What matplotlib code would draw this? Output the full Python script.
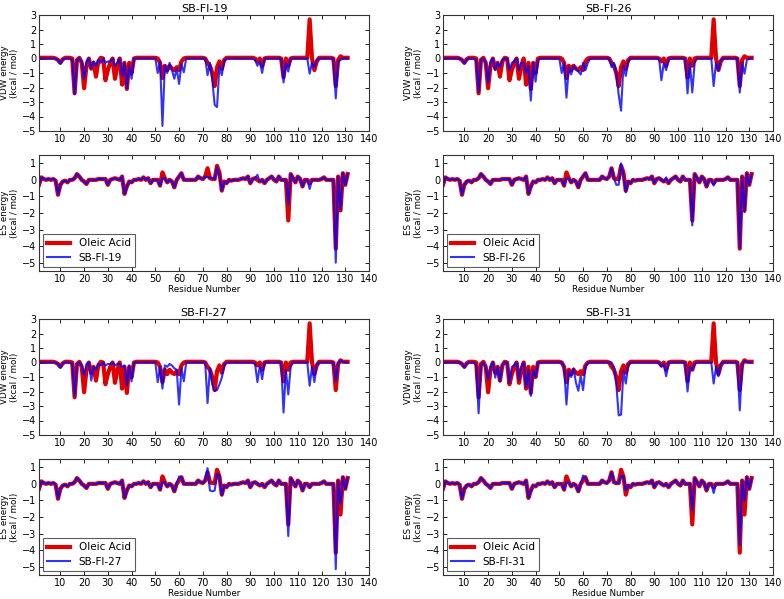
import numpy as np
import matplotlib
matplotlib.use('Agg')
import matplotlib.pyplot as plt

residues = np.arange(1, 132)
compounds = ['SB-FI-19', 'SB-FI-26', 'SB-FI-27', 'SB-FI-31']

# VDW energy per residue (kcal/mol), residues 1-131
vdw_oleic = [
    0.05, 0.05, 0.05, 0.05, 0.05, 0.05, 0.05, 0.0, -0.1, -0.3,
    -0.05, 0.05, 0.05, 0.05, 0.0, -2.4, -0.1, 0.05, -0.3, -2.05,
    -0.5, 0.0, -0.7, -0.3, -1.25, -0.2, 0.05, 0.0, -1.5, -0.8,
    -0.3, 0.0, -1.4, -0.5, 0.0, -1.8, -0.3, -2.1, -0.3, -1.0,
    0.0, 0.05, 0.05, 0.05, 0.05, 0.05, 0.05, 0.05, 0.05, 0.05,
    0.0, -0.3, -1.35, -0.5, -0.8, -0.5, -0.7, -0.8, -0.6, -0.8,
    -0.2, 0.0, 0.05, 0.05, 0.05, 0.05, 0.05, 0.05, 0.05, 0.05,
    0.0, -0.3, -0.5, -1.0, -1.9, -0.6, -0.2, -0.7, -0.1, 0.05,
    0.05, 0.05, 0.05, 0.05, 0.05, 0.05, 0.05, 0.05, 0.05, 0.05,
    0.05, 0.0, -0.2, 0.0, -0.5, 0.0, 0.05, 0.05, 0.05, 0.05,
    0.05, 0.05, 0.0, -1.3, 0.0, -0.5, 0.0, 0.05, 0.05, 0.05,
    0.05, 0.05, 0.05, 0.05, 2.7, 0.0, -0.8, -0.2, 0.05, 0.05,
    0.05, 0.05, 0.05, 0.05, 0.0, -1.9, -0.1, 0.15, 0.05, 0.05, 0.05]

vdw_sb19 = [
    0, 0, 0, 0, 0, 0, 0, 0, -0.1, -0.35,
    -0.05, 0, 0, 0, -0.1, -2.45, -0.1, 0, -0.2, -1.4,
    -0.2, 0, -0.7, -0.2, -0.5, -0.1, -0.3, 0, -0.3, -0.2,
    -0.2, 0, -0.5, -0.3, 0, -1.2, -0.3, -2.05, -0.5, -1.4,
    0, 0, 0, 0, 0, 0, 0, 0, 0, 0,
    -1.0, -0.2, -4.65, -0.5, -1.0, -0.3, -0.8, -1.4, -0.7, -1.75,
    -0.4, -0.95, 0, 0, 0, 0, 0, 0, 0, 0,
    0, -1.15, -0.3, -1.5, -3.2, -3.35, -0.5, -1.15, -0.2, 0,
    0, 0, 0, 0, 0, 0, 0, 0, 0, 0,
    0, -0.1, -0.5, -0.2, -1.0, 0, 0, 0, 0, 0,
    0, 0, 0, -1.65, -0.3, -0.9, 0, 0, 0, 0,
    0, 0, 0, 0, -1.05, -0.3, -0.6, -0.1, 0, 0,
    0, 0, 0, 0, 0, -2.75, -0.2, -0.1, 0, 0, 0]

vdw_sb26 = [
    0, 0, 0, 0, 0, 0, 0, 0, -0.1, -0.35,
    -0.05, 0, 0, 0, -0.1, -2.3, -0.1, 0, -0.3, -1.7,
    -0.2, 0, -0.8, -0.3, -0.6, -0.1, 0, 0, -0.8, -0.3,
    -0.2, 0, -0.8, -0.3, -0.3, -1.0, -0.5, -2.9, -0.3, -1.6,
    -0.1, 0, 0, 0, 0, 0, 0, 0, 0, 0,
    -1.0, -0.3, -2.7, -0.6, -1.1, -0.5, -0.7, -0.9, -1.1, -0.3,
    -0.8, -0.3, 0, 0, 0, 0, 0, 0, 0, 0,
    0, -0.6, -0.3, -1.0, -2.5, -3.6, -0.5, -1.2, -0.2, 0,
    0, 0, 0, 0, 0, 0, 0, 0, 0, 0,
    0, 0, -1.5, -0.3, -0.8, 0, 0, 0, 0, 0,
    0, 0, 0, -2.4, -0.3, -2.35, -0.3, 0, 0, 0,
    0, 0, 0, 0, -1.9, -0.3, -0.8, -0.1, 0, 0,
    0, 0, 0, 0, 0, -2.35, -0.3, -1.05, -0.1, 0, 0]

vdw_sb27 = [
    0, 0, 0, 0, 0, 0, 0, 0, -0.1, -0.35,
    -0.05, 0, 0, 0, -0.1, -2.3, -0.1, 0, -0.2, -0.9,
    -0.1, 0, -1.25, -0.3, -0.5, -0.1, -0.2, 0, -0.2, -0.1,
    -0.1, 0, -0.2, -0.1, -0.1, -0.3, -0.2, -1.6, -0.2, -1.3,
    0, 0, 0, 0, 0, 0, 0, 0, 0, 0,
    -1.35, -0.3, -1.8, -0.2, -0.3, -0.1, -0.2, -0.4, -0.5, -2.9,
    -0.4, -1.3, 0, 0, 0, 0, 0, 0, 0, 0,
    0, -2.8, -0.4, -1.5, -1.95, -1.9, -1.5, -1.05, -0.2, 0,
    0, 0, 0, 0, 0, 0, 0, 0, 0, 0,
    0, -0.1, -1.35, -0.2, -1.15, 0, 0, 0, 0, 0,
    0, 0, 0, -3.45, -0.5, -2.2, -0.3, 0, 0, 0,
    0, 0, 0, 0, -1.6, -0.3, -1.35, -0.1, 0, 0,
    0, 0, 0, 0, 0, -1.3, -0.1, 0.15, 0.05, 0, 0]

vdw_sb31 = [
    0, 0, 0, 0, 0, 0, 0, 0, -0.1, -0.35,
    -0.05, 0, 0, 0, -0.2, -3.5, -0.2, 0, -0.3, -1.2,
    -0.3, 0, -1.05, -0.3, -1.3, -0.2, 0, 0, -1.4, -0.3,
    -0.2, 0, -1.2, -0.3, 0, -1.7, -0.5, -2.3, -0.5, -1.0,
    0, 0, 0, 0, 0, 0, 0, 0, 0, 0,
    0, -0.3, -2.9, -0.6, -1.0, -0.4, -1.4, -1.95, -0.9, -1.9,
    -0.3, 0, 0, 0, 0, 0, 0, 0, 0, 0,
    0, 0, -0.3, -1.5, -3.65, -3.6, -0.6, -1.45, -0.2, 0,
    0, 0, 0, 0, 0, 0, 0, 0, 0, 0,
    0, 0, -0.3, -0.1, -0.95, 0, 0, 0, 0, 0,
    0, 0, 0, -2.0, -0.3, -0.5, -0.1, 0, 0, 0,
    0, 0, 0, 0, -1.45, -0.3, -0.95, -0.1, 0, 0,
    0, 0, 0, 0, 0, -3.3, -0.2, 0.1, 0.05, 0, 0]

# ES energy per residue (kcal/mol), residues 1-131
es_oleic = [
    -0.3, 0.15, 0.05, 0.0, 0.05, 0.0, 0.05, -0.05, -0.9, -0.3,
    -0.1, -0.05, -0.15, 0.0, 0.0, 0.1, 0.35, 0.2, 0.0, -0.1,
    -0.25, 0.0, 0.0, 0.0, 0.0, 0.05, 0.05, 0.05, 0.05, -0.3,
    0.0, 0.05, 0.1, 0.05, 0.0, 0.2, -0.85, -0.4, -0.1, -0.15,
    0.0, 0.0, 0.05, 0.0, 0.15, 0.0, 0.1, -0.2, 0.0, 0.0,
    0.0, -0.35, 0.45, 0.1, -0.15, 0.0, -0.1, -0.45, 0.0, 0.2,
    0.4, 0.0, 0.0, 0.0, 0.0, 0.0, 0.0, 0.2, 0.1, 0.05,
    0.2, 0.7, 0.1, 0.05, 0.05, 0.85, 0.45, -0.65, -0.1, -0.2,
    0.0, -0.05, 0.0, 0.0, 0.0, 0.05, 0.1, 0.05, 0.2, -0.2,
    0.05, 0.1, 0.0, -0.1, 0.0, -0.2, 0.0, 0.1, 0.2, 0.0,
    -0.1, 0.2, 0.0, 0.0, 0.0, -2.45, 0.35, 0.1, -0.15, 0.2,
    0.05, -0.4, 0.0, 0.0, -0.2, 0.0, 0.0, 0.0, 0.0, 0.05,
    0.15, 0.0, 0.0, 0.0, 0.0, -4.15, 0.2, -1.85, 0.4, -0.3, 0.35]

es_sb19 = [
    -0.3, 0.15, 0.05, 0.0, 0.05, 0.0, 0.05, -0.05, -0.9, -0.3,
    -0.1, -0.05, -0.15, 0.0, 0.0, 0.1, 0.35, 0.2, 0.0, -0.1,
    -0.25, 0.0, 0.0, 0.0, 0.0, 0.05, 0.05, 0.05, 0.05, -0.3,
    0.0, 0.05, 0.1, 0.05, 0.0, 0.2, -0.85, -0.4, -0.1, -0.15,
    0.0, 0.0, 0.05, 0.0, 0.15, 0.0, 0.1, -0.2, 0.0, 0.0,
    0.0, -0.35, 0.1, 0.1, -0.15, 0.0, -0.1, -0.45, 0.0, 0.2,
    0.4, 0.0, 0.0, 0.0, 0.0, 0.0, 0.0, 0.2, 0.1, 0.05,
    0.2, 0.15, 0.15, 0.1, 0.05, 0.75, 0.3, -0.65, -0.1, -0.2,
    0.0, -0.05, 0.0, 0.0, 0.0, 0.05, 0.1, 0.05, 0.2, -0.2,
    0.05, 0.1, 0.3, -0.1, 0.0, -0.2, 0.0, 0.1, 0.2, 0.0,
    -0.1, 0.2, 0.0, 0.0, 0.0, -1.5, 0.35, 0.1, -0.15, 0.2,
    0.05, -0.4, 0.0, 0.0, -0.55, 0.0, 0.0, 0.0, 0.0, 0.05,
    0.15, 0.0, 0.0, 0.0, 0.0, -5.0, 0.2, -1.8, 0.4, -0.3, 0.35]

es_sb26 = [
    -0.3, 0.15, 0.05, 0.0, 0.05, 0.0, 0.05, -0.05, -0.9, -0.3,
    -0.1, -0.05, -0.15, 0.0, 0.0, 0.1, 0.35, 0.2, 0.0, -0.1,
    -0.25, 0.0, 0.0, 0.0, 0.0, 0.05, 0.05, 0.05, 0.05, -0.3,
    0.0, 0.05, 0.1, 0.05, 0.0, 0.2, -0.85, -0.4, -0.1, -0.15,
    0.0, 0.0, 0.05, 0.0, 0.15, 0.0, 0.1, -0.2, 0.0, 0.0,
    0.0, -0.35, 0.1, 0.1, -0.15, 0.0, -0.1, -0.45, 0.0, 0.2,
    0.4, 0.0, 0.0, 0.0, 0.0, 0.0, 0.0, 0.2, 0.1, 0.05,
    0.2, 0.7, 0.1, -0.3, -0.3, 1.0, 0.3, -0.75, -0.1, -0.2,
    0.0, -0.05, 0.0, 0.0, 0.0, 0.05, 0.1, 0.05, 0.2, -0.2,
    0.05, 0.1, 0.0, -0.1, 0.15, -0.2, 0.0, 0.1, 0.2, 0.0,
    -0.1, 0.2, 0.0, 0.0, 0.0, -2.75, 0.35, 0.1, -0.15, 0.2,
    0.05, -0.4, 0.0, 0.0, -0.35, 0.0, 0.0, 0.0, 0.0, 0.05,
    0.15, 0.0, 0.0, 0.0, 0.0, -4.1, 0.2, -1.95, 0.4, -0.3, 0.35]

es_sb27 = [
    -0.3, 0.15, 0.05, 0.0, 0.05, 0.0, 0.05, -0.05, -0.9, -0.3,
    -0.1, -0.05, -0.15, 0.0, 0.0, 0.1, 0.35, 0.2, 0.0, -0.1,
    -0.25, 0.0, 0.0, 0.0, 0.0, 0.05, 0.05, 0.05, 0.05, -0.3,
    0.0, 0.05, 0.1, 0.05, 0.0, 0.2, -0.85, -0.4, -0.1, -0.15,
    0.0, 0.0, 0.05, 0.0, 0.15, 0.0, 0.1, -0.2, 0.0, 0.0,
    0.0, -0.35, 0.1, 0.1, -0.15, 0.0, -0.1, -0.45, 0.0, 0.45,
    0.4, 0.0, 0.0, 0.0, 0.0, 0.0, 0.0, 0.2, 0.1, 0.05,
    0.2, 0.95, -0.4, -0.45, -0.4, 0.6, 0.5, -0.7, -0.1, -0.2,
    0.0, -0.05, 0.0, 0.0, 0.0, 0.05, 0.1, 0.05, 0.2, -0.2,
    0.05, 0.1, 0.0, -0.1, 0.0, -0.2, 0.0, 0.1, 0.2, 0.0,
    -0.1, 0.2, 0.0, 0.0, 0.0, -3.15, 0.35, 0.1, -0.15, 0.2,
    0.05, -0.4, 0.0, 0.0, -0.2, 0.0, 0.0, 0.0, 0.0, 0.05,
    0.15, 0.0, 0.0, 0.0, 0.0, -5.15, 0.2, -1.2, 0.4, -0.3, 0.35]

es_sb31 = [
    -0.3, 0.15, 0.05, 0.0, 0.05, 0.0, 0.05, -0.05, -0.9, -0.3,
    -0.1, -0.05, -0.15, 0.0, 0.0, 0.1, 0.35, 0.2, 0.0, -0.1,
    -0.25, 0.0, 0.0, 0.0, 0.0, 0.05, 0.05, 0.05, 0.05, -0.3,
    0.0, 0.05, 0.1, 0.05, 0.0, 0.2, -0.85, -0.4, -0.1, -0.15,
    0.0, 0.0, 0.05, 0.0, 0.15, 0.0, 0.1, -0.2, 0.0, 0.0,
    0.0, -0.35, 0.1, 0.1, -0.15, 0.0, -0.1, -0.45, 0.0, 0.5,
    0.35, 0.0, 0.0, 0.0, 0.0, 0.0, 0.0, 0.2, 0.1, 0.05,
    0.2, 0.7, 0.1, 0.05, 0.05, 0.5, 0.45, -0.4, -0.1, -0.2,
    0.0, -0.05, 0.0, 0.0, 0.0, 0.05, 0.1, 0.05, 0.2, -0.2,
    0.05, 0.1, 0.0, -0.1, 0.0, -0.2, 0.0, 0.1, 0.2, 0.0,
    -0.1, 0.2, 0.0, 0.0, 0.0, -1.6, 0.35, 0.1, -0.15, 0.2,
    0.05, -0.4, 0.0, 0.0, -0.55, 0.0, 0.0, 0.0, 0.0, 0.05,
    0.15, 0.0, 0.0, 0.0, 0.0, -3.7, 0.2, -1.0, 0.4, -0.3, 0.35]

vdw_blue = [vdw_sb19, vdw_sb26, vdw_sb27, vdw_sb31]
es_blue = [es_sb19, es_sb26, es_sb27, es_sb31]

plt.rcParams['font.family'] = 'DejaVu Sans'
plt.rcParams['xtick.direction'] = 'in'
plt.rcParams['ytick.direction'] = 'in'
plt.rcParams['xtick.top'] = True
plt.rcParams['ytick.right'] = True
plt.rcParams['xtick.labelsize'] = 7
plt.rcParams['ytick.labelsize'] = 7

fig = plt.figure(figsize=(7.84, 5.99), dpi=100)

W, H = 784.0, 599.0
lefts = [39, 443, 39, 443]
vdw_tops = [15, 15, 319, 319]
es_tops = [155, 155, 459, 459]
ax_w, ax_h = 330, 116


def style_axes(ax):
    ax.set_xlim(1, 140)
    ax.set_xticks(np.arange(10, 141, 10))
    ax.tick_params(length=3, width=0.6, pad=2)
    for s in ax.spines.values():
        s.set_linewidth(0.8)
        s.set_color('#333333')


for i, name in enumerate(compounds):
    x0 = lefts[i] / W
    # VDW panel
    ax1 = fig.add_axes([x0, 1 - (vdw_tops[i] + ax_h) / H, ax_w / W, ax_h / H])
    ax1.plot(residues, vdw_oleic, color='#e00000', lw=3)
    ax1.plot(residues, vdw_blue[i], color='#0000ff', lw=1.5, alpha=0.8)
    ax1.set_ylim(-5, 3)
    ax1.set_yticks(np.arange(-5, 4, 1))
    style_axes(ax1)
    ax1.set_title(name, fontsize=8, pad=2)
    ax1.set_ylabel('VDW energy\n(kcal / mol)', fontsize=6.3, labelpad=2)

    # ES panel
    ax2 = fig.add_axes([x0, 1 - (es_tops[i] + ax_h) / H, ax_w / W, ax_h / H])
    ax2.plot(residues, es_oleic, color='#e00000', lw=3, label='Oleic Acid')
    ax2.plot(residues, es_blue[i], color='#0000ff', lw=1.5, alpha=0.8, label=name)
    ax2.set_ylim(-5.5, 1.5)
    ax2.set_yticks(np.arange(-5, 2, 1))
    style_axes(ax2)
    ax2.set_ylabel('ES energy\n(kcal / mol)', fontsize=6.3, labelpad=2)
    ax2.set_xlabel('Residue Number', fontsize=6.3, labelpad=1)
    leg = ax2.legend(loc='lower left', fontsize=7.5, fancybox=False,
                     handlelength=2.2, borderpad=0.4, labelspacing=0.4,
                     borderaxespad=0.4)
    leg.get_frame().set_edgecolor('#333333')
    leg.get_frame().set_linewidth(0.8)

plt.savefig('out.png', dpi=100)
